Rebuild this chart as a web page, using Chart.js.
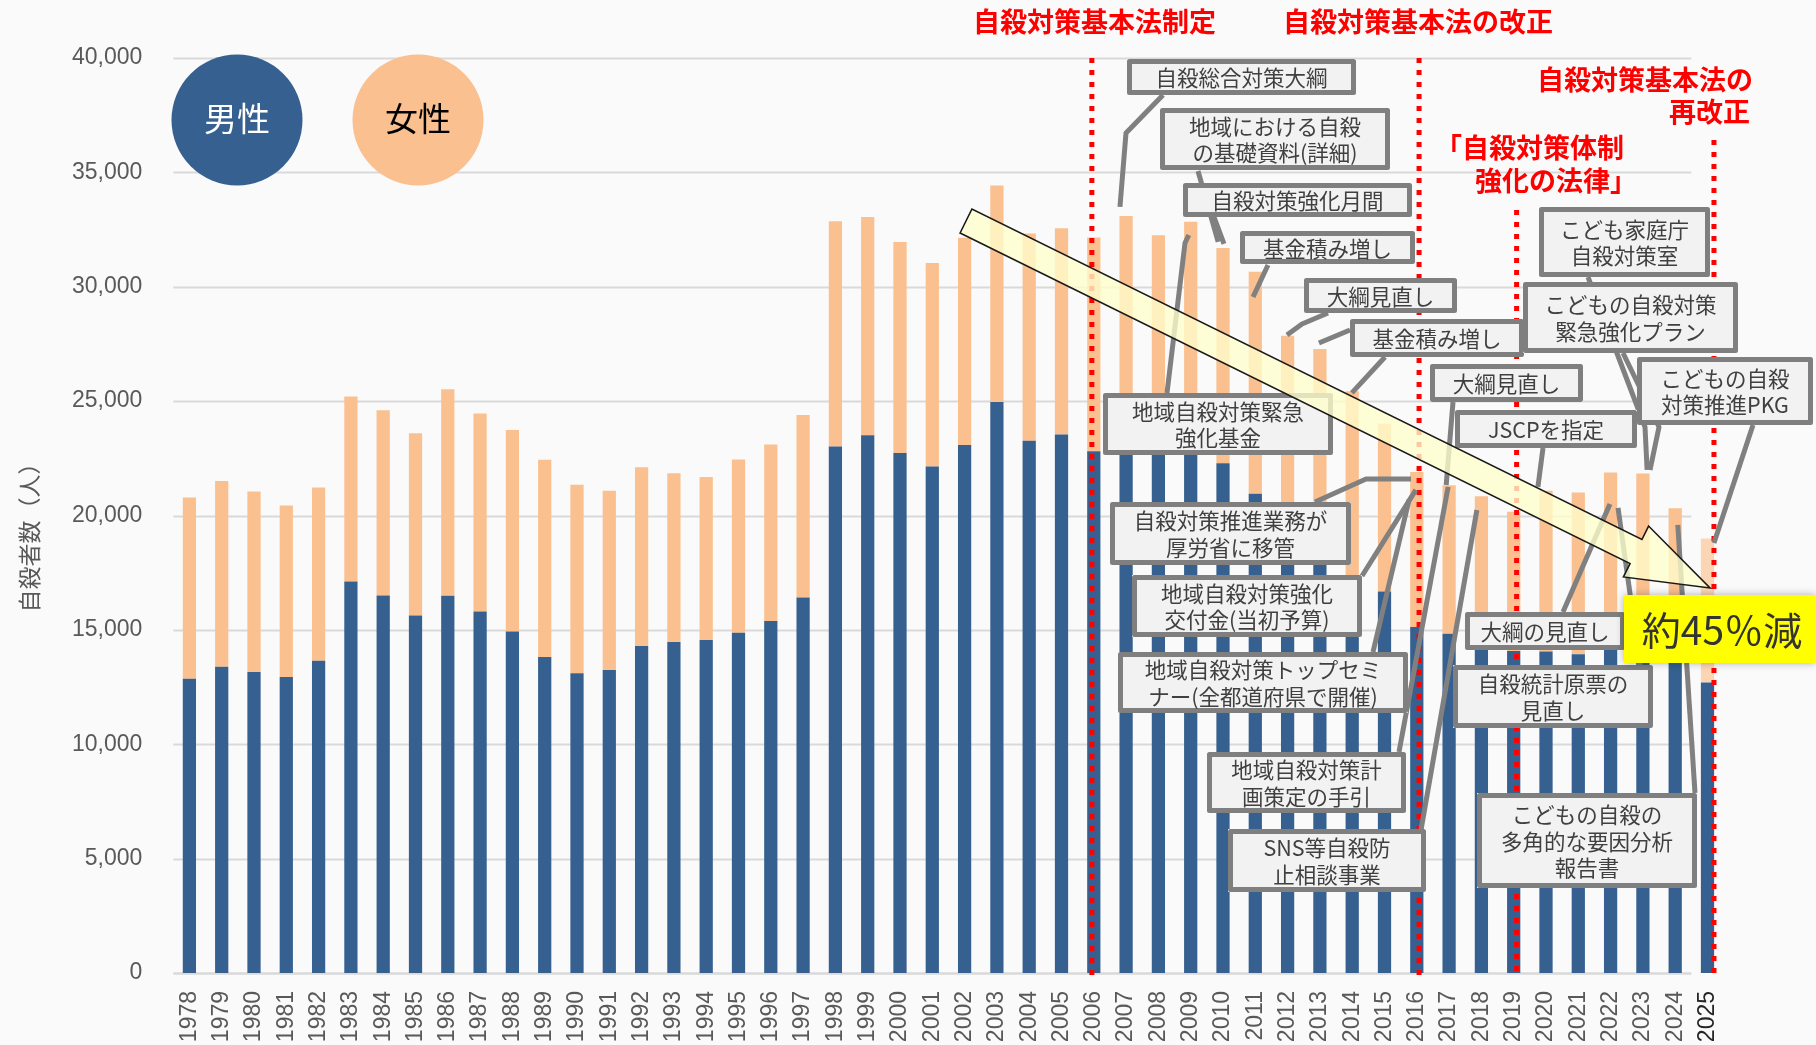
<!DOCTYPE html>
<html>
<head>
<meta charset="utf-8">
<script src="https://cdn.jsdelivr.net/npm/chart.js@4.4.1/dist/chart.umd.min.js"></script>
<style>
html,body{margin:0;padding:0;background:#FAFAFA;}
#wrap{width:1816px;height:1045px;position:relative;}
</style>
</head>
<body>
<div id="wrap"><canvas id="c" width="1816" height="1045"></canvas></div>
<script>
// ---- data ----
const years = ['1978','1979','1980','1981','1982','1983','1984','1985','1986','1987','1988','1989','1990','1991','1992','1993','1994','1995','1996','1997','1998','1999','2000','2001','2002','2003','2004','2005','2006','2007','2008','2009','2010','2011','2012','2013','2014','2015','2016','2017','2018','2019','2020','2021','2022','2023','2024','2025'];
const maleValues = [12859,13386,13155,12942,13654,17116,16508,15624,16497,15802,14934,13818,13102,13242,14296,14468,14560,14874,15393,16416,23013,23512,22727,22144,23080,24963,23272,23540,22813,23478,22831,23472,22283,20955,19273,18787,17386,16681,15121,14826,14290,14078,14055,13939,14746,14862,13801,12700];
const femaleValues = [7929,8117,7893,7492,7574,8086,8088,7975,9027,8658,8808,8618,8244,7842,7808,7383,7119,7571,7711,7975,9850,9536,9230,8898,9063,9464,9053,9012,9342,9615,9418,9373,9407,9696,8585,8496,8041,7344,6776,6495,6550,6091,7026,7068,7135,6975,6519,6300];
const yMax = 40000;
const yStep = 5000;
const seriesNames = ['男性','女性'];
const yTitle = '自殺者数（人）';
const headline = '約45％減';

// red law markers: year index, top value, bottom value
const lawLines = [
  {i:27.94, top:40000, bot:-300},
  {i:38.07, top:40000, bot:-90},
  {i:41.09, top:33350, bot:-90},
  {i:47.2,  top:36420, bot:-300}
];
const lawTexts = [
  {t:'自殺対策基本法制定', x:973, y:22},
  {t:'自殺対策基本法の改正', x:1283, y:22},
  {t:'自殺対策基本法の', x:1537, y:80},
  {t:'再改正', x:1669, y:112},
  {t:'「自殺対策体制', x:1435, y:148},
  {t:'強化の法律」', x:1475, y:181}
];
const boxes = [
  {r:[1127,59,1356,95], t:['自殺総合対策大綱']},
  {r:[1160,108,1390,170], t:['地域における自殺','の基礎資料(詳細)']},
  {r:[1183,183,1412,217], t:['自殺対策強化月間']},
  {r:[1240,231,1415,264], t:['基金積み増し']},
  {r:[1304,278,1457,313], t:['大綱見直し']},
  {r:[1350,319,1524,357], t:['基金積み増し']},
  {r:[1103,393,1333,455], t:['地域自殺対策緊急','強化基金']},
  {r:[1110,502,1351,565], t:['自殺対策推進業務が','厚労省に移管']},
  {r:[1132,575,1362,637], t:['地域自殺対策強化','交付金(当初予算)']},
  {r:[1118,652,1408,713], t:['地域自殺対策トップセミ','ナー(全都道府県で開催)']},
  {r:[1207,752,1406,813], t:['地域自殺対策計','画策定の手引']},
  {r:[1228,829,1426,892], t:['SNS等自殺防','止相談事業']},
  {r:[1430,364,1583,402], t:['大綱見直し']},
  {r:[1455,410,1637,448], t:['JSCPを指定']},
  {r:[1539,207,1710,277], t:['こども家庭庁','自殺対策室']},
  {r:[1523,282,1738,353], t:['こどもの自殺対策','緊急強化プラン']},
  {r:[1637,357,1813,425], t:['こどもの自殺','対策推進PKG']},
  {r:[1465,612,1625,650], t:['大綱の見直し']},
  {r:[1453,665,1653,728], t:['自殺統計原票の','見直し']},
  {r:[1477,793,1697,888], t:['こどもの自殺の','多角的な要因分析','報告書']}
];
// connectors: pixel waypoints, final anchor [year index, value]
const connectors = [
  {p:[[1163,95],[1126,133]], a:[28.81,33490]},
  {p:[[1198,171]], a:[31.85,31960]},
  {p:[[1214,217]], a:[32.03,31870]},
  {p:[[1268,265]], a:[32.93,29550]},
  {p:[[1328,313],[1302,324]], a:[33.98,27890]},
  {p:[[1350,330]], a:[34.97,27540]},
  {p:[[1385,357]], a:[35.99,25360]},
  {p:[[1167,393],[1185,243]], a:[30.94,32260]},
  {p:[[1315,502],[1366,479]], a:[37.82,21600]},
  {p:[[1362,576]], a:[37.97,21120]},
  {p:[[1373,652]], a:[37.76,20680]},
  {p:[[1399,752]], a:[38.97,21250]},
  {p:[[1453,402]], a:[38.91,21330]},
  {p:[[1421,830]], a:[39.86,20240]},
  {p:[[1543,448]], a:[41.75,21250]},
  {p:[[1588,277],[1645,427]], a:[45.13,21990]},
  {p:[[1623,353],[1659,427]], a:[45.22,21990]},
  {p:[[1753,425]], a:[47.2,18800]},
  {p:[[1563,612]], a:[43.98,20500]},
  {p:[[1640,665]], a:[44.23,20330]},
  {p:[[1695,793]], a:[46.08,19590]}
];
const arrowFrom = [966,221];
const arrowTo = [1710,588];

const CJK = '"Noto Sans CJK JP", "Noto Sans CJK SC", sans-serif';
const LAT = '"Liberation Sans", Arial, sans-serif';

const decor = {
  id:'decor',
  beforeDraw(chart){
    const c = chart.ctx;
    c.save(); c.fillStyle = '#FAFAFA'; c.fillRect(0,0,chart.width,chart.height); c.restore();
  },
  beforeDatasetsDraw(chart){
    const c = chart.ctx, xs = chart.scales.x, ys = chart.scales.y, ca = chart.chartArea;
    const slot = xs.getPixelForValue(1) - xs.getPixelForValue(0);
    const xEnd = xs.getPixelForValue(years.length - 2) + slot/2;
    c.save();
    c.strokeStyle = '#D9D9D9';
    for (let v = 0; v <= yMax; v += yStep) {
      const y = Math.round(ys.getPixelForValue(v)) + 0.5;
      c.lineWidth = v === 0 ? 2.5 : 2;
      c.beginPath(); c.moveTo(ca.left, y); c.lineTo(xEnd, y); c.stroke();
    }
    c.restore();
  },
  afterDatasetsDraw(chart){
    const c = chart.ctx, xs = chart.scales.x, ys = chart.scales.y;
    const X = i => xs.getPixelForValue(i), Y = v => ys.getPixelForValue(v);
    c.save();
    // red dotted law lines
    c.strokeStyle = '#FF0000'; c.lineWidth = 5; c.setLineDash([5,7]);
    lawLines.forEach(l => {
      c.beginPath(); c.moveTo(X(l.i), Y(l.top)); c.lineTo(X(l.i), Y(l.bot)); c.stroke();
    });
    c.setLineDash([]);
    // connectors
    c.strokeStyle = '#808080'; c.lineWidth = 5; c.lineJoin = 'round'; c.lineCap = 'butt';
    connectors.forEach(cn => {
      c.beginPath();
      cn.p.forEach((pt, k) => k ? c.lineTo(pt[0], pt[1]) : c.moveTo(pt[0], pt[1]));
      c.lineTo(X(cn.a[0]), Y(cn.a[1]));
      c.stroke();
    });
    // boxes
    boxes.forEach(b => {
      const [x1,y1,x2,y2] = b.r;
      c.fillStyle = '#F2F2F2';
      c.fillRect(x1, y1, x2-x1, y2-y1);
      c.strokeStyle = '#7F7F7F'; c.lineWidth = 5;
      c.strokeRect(x1+2.5, y1+2.5, x2-x1-5, y2-y1-5);
      c.fillStyle = '#404040';
      c.font = '21.5px ' + CJK;
      c.textAlign = 'center'; c.textBaseline = 'middle';
      const lh = 26.5, cx = (x1+x2)/2, cy = (y1+y2)/2 + 1;
      b.t.forEach((s, k) => c.fillText(s, cx, cy + (k - (b.t.length-1)/2)*lh));
    });
    // big arrow
    {
      const [sx,sy] = arrowFrom, [tx,ty] = arrowTo;
      const dx = tx-sx, dy = ty-sy, L = Math.hypot(dx,dy);
      const ux = dx/L, uy = dy/L, nx = -uy, ny = ux;
      const sw = 13.4, hw = 28.4, hl = 82.5;
      const bx = tx - ux*hl, by = ty - uy*hl;
      const pts = [
        [sx+nx*sw, sy+ny*sw],
        [bx+nx*sw, by+ny*sw],
        [bx+nx*hw, by+ny*hw],
        [tx, ty],
        [bx-nx*hw, by-ny*hw],
        [bx-nx*sw, by-ny*sw],
        [sx-nx*sw, sy-ny*sw]
      ];
      c.beginPath();
      pts.forEach((p,k) => k ? c.lineTo(p[0],p[1]) : c.moveTo(p[0],p[1]));
      c.closePath();
      c.fillStyle = 'rgba(255,255,204,0.78)';
      c.fill();
      c.strokeStyle = '#1A1A1A'; c.lineWidth = 1.6; c.lineJoin = 'miter';
      c.stroke();
    }
    // yellow headline box
    c.save();
    c.shadowColor = 'rgba(0,0,0,0.3)'; c.shadowBlur = 8;
    c.fillStyle = '#FFFF00';
    c.fillRect(1624, 595, 192, 68);
    c.restore();
    c.fillStyle = '#333333'; c.font = '39px ' + CJK;
    c.textAlign = 'center'; c.textBaseline = 'middle';
    c.fillText(headline, 1722, 630);
    // legend circles
    const circ = [[237,120,'#36608F','#FFFFFF'],[418,120,'#FAC090','#000000']];
    circ.forEach((cc, k) => {
      c.beginPath(); c.arc(cc[0], cc[1], 65.5, 0, Math.PI*2); c.fillStyle = cc[2]; c.fill();
      c.fillStyle = cc[3]; c.font = '33px ' + CJK; c.textAlign = 'center'; c.textBaseline = 'middle';
      c.fillText(seriesNames[k], cc[0], cc[1]-2);
    });
    // red law texts
    c.fillStyle = '#FF0000'; c.font = 'bold 27px ' + CJK; c.textAlign = 'left'; c.textBaseline = 'middle';
    lawTexts.forEach(t => c.fillText(t.t, t.x, t.y));
    // y axis title
    c.translate(29, 532); c.rotate(-Math.PI/2);
    c.fillStyle = '#595959'; c.font = '23px ' + CJK; c.textAlign = 'center'; c.textBaseline = 'middle';
    c.fillText(yTitle, 0, 0);
    c.restore();
  }
};

new Chart(document.getElementById('c'), {
  type: 'bar',
  data: {
    labels: years,
    datasets: [
      {label: seriesNames[0], data: maleValues, backgroundColor: '#36608F', barPercentage: 0.41, categoryPercentage: 1},
      {label: seriesNames[1], data: femaleValues,
       backgroundColor: ctx => ctx.dataIndex === years.length-1 ? '#FCD5B5' : '#FAC090',
       barPercentage: 0.41, categoryPercentage: 1}
    ]
  },
  options: {
    responsive: false,
    animation: false,
    devicePixelRatio: 1,
    layout: {padding: {top: 58, right: 92.35, bottom: 0, left: 0}},
    plugins: {legend: {display: false}, tooltip: {enabled: false}},
    scales: {
      x: {
        stacked: true,
        grid: {display: false, drawTicks: false},
        border: {display: false},
        ticks: {
          autoSkip: false, minRotation: 90, maxRotation: 90, padding: 18,
          color: ctx => ctx.index === years.length-1 ? '#262626' : '#595959',
          font: {family: LAT, size: 23}
        },
        afterFit: s => { s.height = 72; }
      },
      y: {
        stacked: true, min: 0, max: yMax,
        grid: {display: false, drawTicks: false},
        border: {display: false},
        ticks: {
          stepSize: yStep, padding: 31, color: '#595959',
          font: {family: LAT, size: 23},
          callback: v => Number(v).toLocaleString('en-US')
        },
        afterFit: s => { s.width = 173.25; }
      }
    }
  },
  plugins: [decor]
});
</script>
</body>
</html>
